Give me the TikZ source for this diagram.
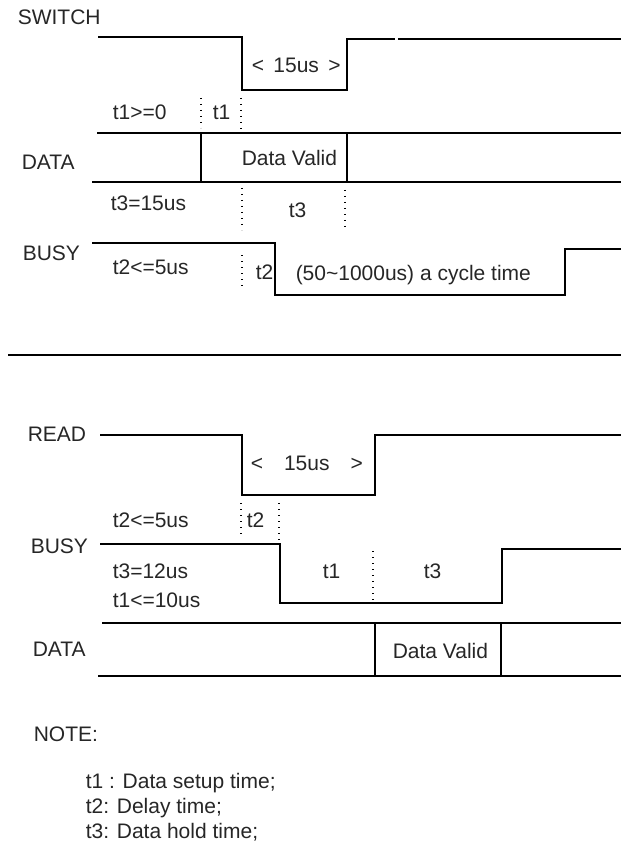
\documentclass[tikz,border=0pt]{standalone}
\usepackage{fontspec}
\setmainfont{Liberation Sans}
\begin{document}
\begin{tikzpicture}[x=1pt, y=-1pt, line width=1.5pt,
        lbl/.style={anchor=west, inner sep=0pt, text height=14.5pt, text depth=0pt, text=black!85, font=\fontsize{21}{24}\selectfont},
        dots/.style={line width=1.4pt, dash pattern=on 1.4pt off 4.6pt}]
    \useasboundingbox (0,0) rectangle (621,842);
    % SWITCH / DATA / BUSY
        \draw (98,37)--(242,37)--(242,90)--(347,90)--(347,39)--(395,39);
        \draw (398,39)--(621,39);
        \draw [dots] (201,98)--(201,128);
        \draw [dots] (241,98)--(241,132);
        \draw (97,133)--(621,133);
        \draw (92,182)--(621,182);
        \draw (201,133)--(201,182);
        \draw (347,133)--(347,182);
        \draw [dots] (242,188)--(242,230);
        \draw [dots] (345,190)--(345,228);
        \draw (92,243)--(275,243)--(275,295)--(565,295)--(565,249)--(621,249);
        \draw [dots] (242,255)--(242,290);
    \node (sw) at (17,17)[lbl]{SWITCH};
    \node (swpulse) at (251,65)[lbl]{<\hspace{0.45em}15us\hspace{0.45em}>};
    \node (tonemin) at (112,112)[lbl]{t1>=0};
    \node (tone) at (212,112)[lbl]{t1};
    \node (data) at (21,162)[lbl]{DATA};
    \node (valid) at (241,158)[lbl]{Data Valid};
    \node (tthreeval) at (110,203)[lbl]{t3=15us};
    \node (tthree) at (288,210)[lbl]{t3};
    \node (busy) at (22,253)[lbl]{BUSY};
    \node (ttwomax) at (112,267)[lbl]{t2<=5us};
    \node (ttwo) at (255,272)[lbl]{t2};
    \node (cycle) at (295,273)[lbl]{(50\textasciitilde 1000us) a cycle time};
        \draw (8,355)--(621,355);
    % READ / BUSY / DATA
        \draw (100,435)--(242,435)--(242,495)--(375,495)--(375,435)--(621,435);
        \draw [dots] (241,503)--(241,536);
        \draw [dots] (279,503)--(279,544);
        \draw (100,544)--(280,544)--(280,603)--(502,603)--(502,549)--(621,549);
        \draw [dots] (373,551)--(373,601);
        \draw (102,623)--(621,623);
        \draw (98,676)--(621,676);
        \draw (375,623)--(375,676);
        \draw (501,623)--(501,676);
    \node (rd) at (27,434)[lbl]{READ};
    \node (rdpulse) at (250,463)[lbl]{<\hspace{1em}15us\hspace{1em}>};
    \node (ttwomaxb) at (112,520)[lbl]{t2<=5us};
    \node (ttwob) at (246,520)[lbl]{t2};
    \node (busyb) at (30,546)[lbl]{BUSY};
    \node (tthreevalb) at (112,571)[lbl]{t3=12us};
    \node (tonemaxb) at (112,600)[lbl]{t1<=10us};
    \node (toneb) at (322,571)[lbl]{t1};
    \node (tthreeb) at (423,571)[lbl]{t3};
    \node (datab) at (32,649)[lbl]{DATA};
    \node (validb) at (392,651)[lbl]{Data Valid};
    \node (note) at (33,734)[lbl]{NOTE:};
    \node (noteone) at (85,781)[lbl]{t1 : Data setup time;};
    \node (notetwo) at (85,806)[lbl]{t2: Delay time;};
    \node (notethree) at (85,831)[lbl]{t3: Data hold time;};
\end{tikzpicture}
\end{document}
